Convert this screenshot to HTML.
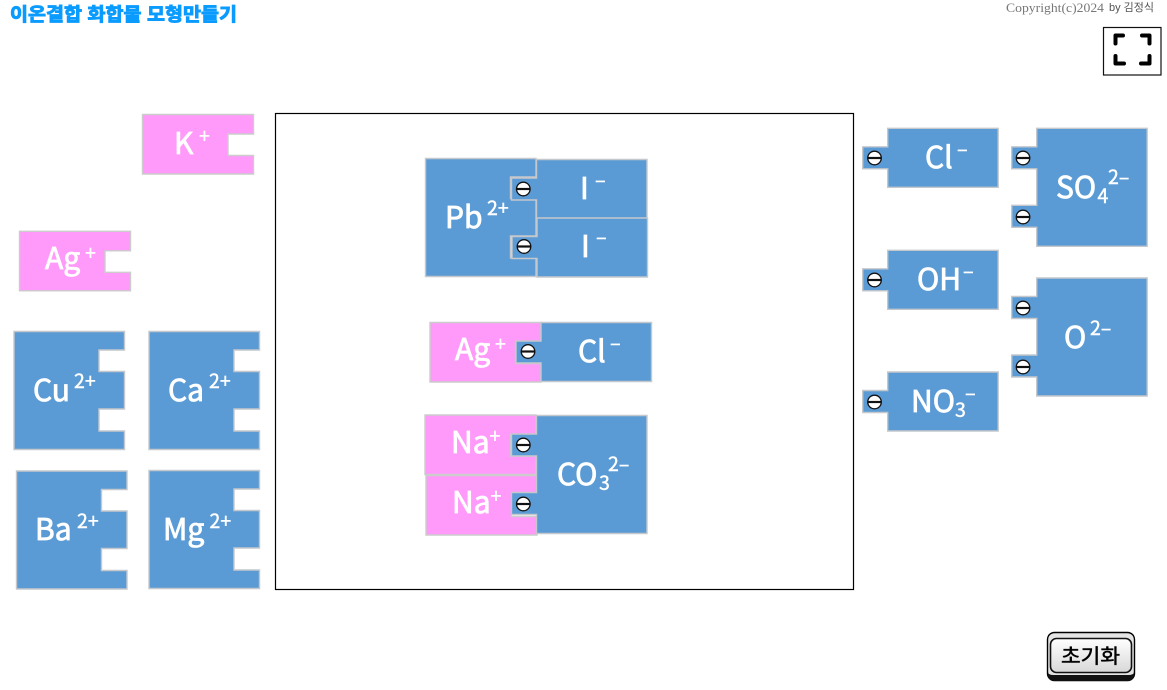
<!DOCTYPE html>
<html lang="ko"><head><meta charset="utf-8"><title>이온결합 화합물 모형만들기</title>
<style>
html,body{margin:0;padding:0;background:#fff;width:1167px;height:690px;overflow:hidden}
svg{display:block}
.p{fill:#FF99FA;stroke:#cccccc;stroke-width:1.4}
.b{fill:#5B9BD5;stroke:#c4c8cc;stroke-width:1.4}
text{font-family:"Noto Sans CJK KR","Liberation Sans",sans-serif}
.t{font-size:30px;font-weight:400;fill:#fff;stroke:#fff;stroke-width:.8}
.s{font-size:19.5px;font-weight:400;fill:#fff;stroke:#fff;stroke-width:.4}
.m{font-size:20px;font-weight:400;fill:#fff;stroke:#fff;stroke-width:.4}
</style></head><body>
<svg width="1167" height="690" viewBox="0 0 1167 690" xmlns="http://www.w3.org/2000/svg">
<defs>
<path id="p1" d="M0 0H111V19.5H85.5V41H111V59.5H0Z"/>
<path id="p2" d="M0 0H110.5V18.5H85V40H110.5V77.5H85V99.5H110.5V118H0Z"/>
<path id="n1" d="M0 0H110.5V59H0V40.5H-25V18.5H0Z"/>
<path id="n2" d="M0 0H110.5V118H0V99H-25V77H0V40.5H-25V18.5H0Z"/>
<g id="c"><circle r="6.8" fill="#fff" stroke="#111" stroke-width="1.3"/><rect x="-6.8" y="-1.1" width="13.6" height="2.2" fill="#111"/></g>
<linearGradient id="bg" x1="0" y1="0" x2="0" y2="1"><stop offset="0" stop-color="#ffffff"/><stop offset="1" stop-color="#d8d8d8"/></linearGradient>
</defs>

<text x="10" y="21" font-size="18.5" font-weight="700" fill="#0A9BFF" stroke="#0A9BFF" stroke-width=".9" textLength="227" lengthAdjust="spacingAndGlyphs">이온결합 화합물 모형만들기</text>
<text x="1006" y="12" style="font-family:'Liberation Serif',serif" font-size="13" fill="#777" textLength="98" lengthAdjust="spacingAndGlyphs">Copyright(c)2024</text>
<text x="1109" y="11" style="font-family:'Liberation Sans','Noto Sans CJK KR',sans-serif" font-size="11" fill="#555">by 김정식</text>

<rect x="1103.5" y="27.5" width="57.5" height="47.5" fill="#fff" stroke="#111" stroke-width="1.2"/>
<path d="M1123 35.5H1115.5V43.5M1142 35.5H1149.5V43.5M1115.5 56V63.5H1124M1149.5 56V63.5H1141" fill="none" stroke="#000" stroke-width="4" stroke-linecap="round" stroke-linejoin="round"/>

<rect x="275.5" y="113.5" width="578" height="476" fill="#fff" stroke="#000" stroke-width="1.2"/>

<!-- left palette -->
<use href="#p1" class="p" x="142.5" y="114.5"/>
<text class="t" x="174" y="154">K</text><text class="s" x="199" y="143">+</text>
<use href="#p1" class="p" x="19.5" y="231.3"/>
<text class="t" x="45" y="269">Ag</text><text class="s" x="85" y="260">+</text>
<use href="#p2" class="b" x="14" y="331.5"/>
<text class="t" x="33" y="401">Cu</text><text class="s" x="74" y="388">2+</text>
<use href="#p2" class="b" x="149" y="331.5"/>
<text class="t" x="168" y="401">Ca</text><text class="s" x="209" y="388">2+</text>
<use href="#p2" class="b" x="16.5" y="471"/>
<text class="t" x="35" y="540">Ba</text><text class="s" x="77" y="528">2+</text>
<use href="#p2" class="b" x="149" y="470.5"/>
<text class="t" x="163" y="540">Mg</text><text class="s" x="209.5" y="528">2+</text>

<!-- PbI2 -->
<use href="#p2" class="b" x="425.5" y="158.5"/>
<text class="t" x="445" y="228">Pb</text><text class="s" x="487" y="215">2+</text>
<use href="#n1" class="b" x="536.5" y="159.5"/>
<use href="#c" x="523.3" y="189"/>
<text class="t" x="580" y="199">I</text><text class="m" x="595" y="187">–</text>
<use href="#n1" class="b" x="537" y="218"/>
<use href="#c" x="524" y="246.5"/>
<text class="t" x="581" y="257">I</text><text class="m" x="596" y="244">–</text>

<!-- AgCl -->
<use href="#p1" class="p" x="430" y="322.5"/>
<text class="t" x="455" y="360">Ag</text><text class="s" x="495" y="351">+</text>
<use href="#n1" class="b" x="541" y="322.5"/>
<use href="#c" x="528" y="351.5"/>
<text class="t" x="578" y="362">Cl</text><text class="m" x="610" y="350">–</text>

<!-- Na2CO3 -->
<use href="#p1" class="p" x="425" y="415"/>
<text class="t" x="451" y="453">Na</text><text class="s" x="489.5" y="443">+</text>
<use href="#p1" class="p" x="426" y="475.5"/>
<text class="t" x="452" y="513">Na</text><text class="s" x="490.5" y="503">+</text>
<use href="#n2" class="b" x="536.5" y="415.5"/>
<use href="#c" x="523.3" y="445"/><use href="#c" x="523.3" y="504"/>
<text class="t" x="557" y="485">CO</text><text class="s" x="599" y="490">3</text><text class="s" x="608" y="471">2–</text>

<!-- right palette -->
<use href="#n1" class="b" x="887.7" y="128.3"/><use href="#c" x="874.5" y="158"/>
<text class="t" x="925" y="168">Cl</text><text class="m" x="957" y="156">–</text>
<use href="#n1" class="b" x="887.7" y="250.3"/><use href="#c" x="874.5" y="280"/>
<text class="t" x="917" y="290">OH</text><text class="m" x="963" y="278">–</text>
<use href="#n1" class="b" x="887.7" y="372"/><use href="#c" x="874.5" y="402"/>
<text class="t" x="911" y="412">NO</text><text class="s" x="955" y="417">3</text><text class="m" x="965" y="400">–</text>
<use href="#n2" class="b" x="1036.7" y="128.3"/><use href="#c" x="1023" y="158"/><use href="#c" x="1023" y="217"/>
<text class="t" x="1056" y="198">SO</text><text class="s" x="1097.5" y="203">4</text><text class="s" x="1108" y="184">2–</text>
<use href="#n2" class="b" x="1036.7" y="278"/><use href="#c" x="1023" y="308"/><use href="#c" x="1023" y="367"/>
<text class="t" x="1064" y="348">O</text><text class="s" x="1090" y="335">2–</text>

<!-- reset button -->
<rect x="1047.5" y="632.5" width="87" height="48" rx="7" fill="#e4e4e4" stroke="#000" stroke-width="1.4"/>
<path d="M1048 672v2q0 7 7 7h72q7 0 7-7v-2q0 3-6 3h-74q-6 0-6-3z" fill="#111"/>
<rect x="1050.5" y="638.5" width="81" height="34" rx="6" fill="url(#bg)" stroke="#111" stroke-width="1.6"/>
<text x="1061" y="663" font-size="20" font-weight="400" fill="#000" stroke="#000" stroke-width=".5" textLength="59" lengthAdjust="spacingAndGlyphs">초기화</text>
</svg>
</body></html>
